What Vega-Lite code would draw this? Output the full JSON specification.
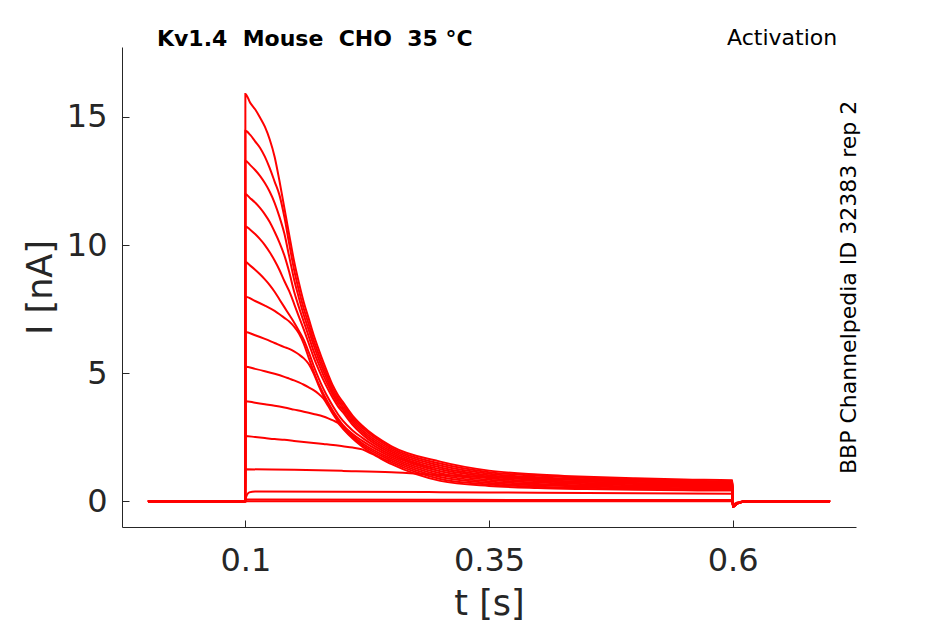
{
  "$schema": "https://vega.github.io/schema/vega-lite/v6.json",
  "autosize": "none",
  "width": 734,
  "height": 480,
  "padding": {"left": 122, "top": 47, "right": 89, "bottom": 97},
  "background": "white",
  "datasets": {
    "traces": [
      {"sweep": 0, "t": 0, "I": 0}, {"sweep": 0, "t": 0.0999, "I": 0}, {"sweep": 0, "t": 0.1, "I": 15.9}, {"sweep": 0, "t": 0.105, "I": 15.55}, {"sweep": 0, "t": 0.11, "I": 15.3}, {"sweep": 0, "t": 0.115, "I": 14.98}, {"sweep": 0, "t": 0.12, "I": 14.62}, {"sweep": 0, "t": 0.125, "I": 14.12}, {"sweep": 0, "t": 0.13, "I": 13.45}, {"sweep": 0, "t": 0.135, "I": 12.5}, {"sweep": 0, "t": 0.14, "I": 11.45}, {"sweep": 0, "t": 0.145, "I": 10.4}, {"sweep": 0, "t": 0.15, "I": 9.37}, {"sweep": 0, "t": 0.155, "I": 8.52}, {"sweep": 0, "t": 0.16, "I": 7.76}, {"sweep": 0, "t": 0.165, "I": 7.13}, {"sweep": 0, "t": 0.17, "I": 6.5}, {"sweep": 0, "t": 0.175, "I": 5.95}, {"sweep": 0, "t": 0.18, "I": 5.43}, {"sweep": 0, "t": 0.185, "I": 4.95}, {"sweep": 0, "t": 0.19, "I": 4.5}, {"sweep": 0, "t": 0.195, "I": 4.15}, {"sweep": 0, "t": 0.2, "I": 3.88}, {"sweep": 0, "t": 0.21, "I": 3.35}, {"sweep": 0, "t": 0.22, "I": 2.95}, {"sweep": 0, "t": 0.25, "I": 2.15}, {"sweep": 0, "t": 0.3, "I": 1.55}, {"sweep": 0, "t": 0.35, "I": 1.2}, {"sweep": 0, "t": 0.4, "I": 1.05}, {"sweep": 0, "t": 0.45, "I": 0.96}, {"sweep": 0, "t": 0.5, "I": 0.9}, {"sweep": 0, "t": 0.55, "I": 0.85}, {"sweep": 0, "t": 0.5999, "I": 0.82}, {"sweep": 0, "t": 0.6001, "I": -0.22}, {"sweep": 0, "t": 0.605, "I": -0.08}, {"sweep": 0, "t": 0.615, "I": 0}, {"sweep": 0, "t": 0.7, "I": 0},

      {"sweep": 1, "t": 0, "I": 0}, {"sweep": 1, "t": 0.0999, "I": 0}, {"sweep": 1, "t": 0.1, "I": 14.46}, {"sweep": 1, "t": 0.105, "I": 14.3}, {"sweep": 1, "t": 0.11, "I": 14.05}, {"sweep": 1, "t": 0.115, "I": 13.8}, {"sweep": 1, "t": 0.12, "I": 13.45}, {"sweep": 1, "t": 0.125, "I": 13.0}, {"sweep": 1, "t": 0.13, "I": 12.48}, {"sweep": 1, "t": 0.135, "I": 11.95}, {"sweep": 1, "t": 0.14, "I": 11.1}, {"sweep": 1, "t": 0.145, "I": 10.05}, {"sweep": 1, "t": 0.15, "I": 9.04}, {"sweep": 1, "t": 0.155, "I": 8.22}, {"sweep": 1, "t": 0.16, "I": 7.51}, {"sweep": 1, "t": 0.165, "I": 6.91}, {"sweep": 1, "t": 0.17, "I": 6.29}, {"sweep": 1, "t": 0.175, "I": 5.76}, {"sweep": 1, "t": 0.18, "I": 5.26}, {"sweep": 1, "t": 0.185, "I": 4.81}, {"sweep": 1, "t": 0.19, "I": 4.37}, {"sweep": 1, "t": 0.195, "I": 4.04}, {"sweep": 1, "t": 0.2, "I": 3.78}, {"sweep": 1, "t": 0.21, "I": 3.26}, {"sweep": 1, "t": 0.22, "I": 2.87}, {"sweep": 1, "t": 0.25, "I": 2.08}, {"sweep": 1, "t": 0.3, "I": 1.475}, {"sweep": 1, "t": 0.35, "I": 1.14}, {"sweep": 1, "t": 0.4, "I": 1.0}, {"sweep": 1, "t": 0.45, "I": 0.912}, {"sweep": 1, "t": 0.5, "I": 0.855}, {"sweep": 1, "t": 0.55, "I": 0.808}, {"sweep": 1, "t": 0.5999, "I": 0.78}, {"sweep": 1, "t": 0.6001, "I": -0.22}, {"sweep": 1, "t": 0.605, "I": -0.08}, {"sweep": 1, "t": 0.615, "I": 0}, {"sweep": 1, "t": 0.7, "I": 0},

      {"sweep": 2, "t": 0, "I": 0}, {"sweep": 2, "t": 0.0999, "I": 0}, {"sweep": 2, "t": 0.1, "I": 13.29}, {"sweep": 2, "t": 0.105, "I": 13.12}, {"sweep": 2, "t": 0.11, "I": 12.93}, {"sweep": 2, "t": 0.115, "I": 12.7}, {"sweep": 2, "t": 0.12, "I": 12.42}, {"sweep": 2, "t": 0.125, "I": 12.08}, {"sweep": 2, "t": 0.13, "I": 11.65}, {"sweep": 2, "t": 0.135, "I": 11.1}, {"sweep": 2, "t": 0.14, "I": 10.45}, {"sweep": 2, "t": 0.145, "I": 9.55}, {"sweep": 2, "t": 0.15, "I": 8.66}, {"sweep": 2, "t": 0.155, "I": 7.93}, {"sweep": 2, "t": 0.16, "I": 7.26}, {"sweep": 2, "t": 0.165, "I": 6.69}, {"sweep": 2, "t": 0.17, "I": 6.1}, {"sweep": 2, "t": 0.175, "I": 5.58}, {"sweep": 2, "t": 0.18, "I": 5.1}, {"sweep": 2, "t": 0.185, "I": 4.66}, {"sweep": 2, "t": 0.19, "I": 4.25}, {"sweep": 2, "t": 0.195, "I": 3.93}, {"sweep": 2, "t": 0.2, "I": 3.68}, {"sweep": 2, "t": 0.21, "I": 3.17}, {"sweep": 2, "t": 0.22, "I": 2.78}, {"sweep": 2, "t": 0.25, "I": 2.01}, {"sweep": 2, "t": 0.3, "I": 1.4}, {"sweep": 2, "t": 0.35, "I": 1.08}, {"sweep": 2, "t": 0.4, "I": 0.944}, {"sweep": 2, "t": 0.45, "I": 0.864}, {"sweep": 2, "t": 0.5, "I": 0.81}, {"sweep": 2, "t": 0.55, "I": 0.766}, {"sweep": 2, "t": 0.5999, "I": 0.74}, {"sweep": 2, "t": 0.6001, "I": -0.22}, {"sweep": 2, "t": 0.605, "I": -0.08}, {"sweep": 2, "t": 0.615, "I": 0}, {"sweep": 2, "t": 0.7, "I": 0},

      {"sweep": 3, "t": 0, "I": 0}, {"sweep": 3, "t": 0.0999, "I": 0}, {"sweep": 3, "t": 0.1, "I": 11.99}, {"sweep": 3, "t": 0.105, "I": 11.83}, {"sweep": 3, "t": 0.11, "I": 11.66}, {"sweep": 3, "t": 0.115, "I": 11.45}, {"sweep": 3, "t": 0.12, "I": 11.2}, {"sweep": 3, "t": 0.125, "I": 10.9}, {"sweep": 3, "t": 0.13, "I": 10.52}, {"sweep": 3, "t": 0.135, "I": 10.1}, {"sweep": 3, "t": 0.14, "I": 9.6}, {"sweep": 3, "t": 0.145, "I": 8.95}, {"sweep": 3, "t": 0.15, "I": 8.19}, {"sweep": 3, "t": 0.155, "I": 7.57}, {"sweep": 3, "t": 0.16, "I": 7.0}, {"sweep": 3, "t": 0.165, "I": 6.44}, {"sweep": 3, "t": 0.17, "I": 5.87}, {"sweep": 3, "t": 0.175, "I": 5.38}, {"sweep": 3, "t": 0.18, "I": 4.93}, {"sweep": 3, "t": 0.185, "I": 4.52}, {"sweep": 3, "t": 0.19, "I": 4.14}, {"sweep": 3, "t": 0.195, "I": 3.82}, {"sweep": 3, "t": 0.2, "I": 3.58}, {"sweep": 3, "t": 0.21, "I": 3.08}, {"sweep": 3, "t": 0.22, "I": 2.7}, {"sweep": 3, "t": 0.25, "I": 1.94}, {"sweep": 3, "t": 0.3, "I": 1.325}, {"sweep": 3, "t": 0.35, "I": 1.02}, {"sweep": 3, "t": 0.4, "I": 0.891}, {"sweep": 3, "t": 0.45, "I": 0.816}, {"sweep": 3, "t": 0.5, "I": 0.765}, {"sweep": 3, "t": 0.55, "I": 0.724}, {"sweep": 3, "t": 0.5999, "I": 0.7}, {"sweep": 3, "t": 0.6001, "I": -0.22}, {"sweep": 3, "t": 0.605, "I": -0.08}, {"sweep": 3, "t": 0.615, "I": 0}, {"sweep": 3, "t": 0.7, "I": 0},

      {"sweep": 4, "t": 0, "I": 0}, {"sweep": 4, "t": 0.0999, "I": 0}, {"sweep": 4, "t": 0.1, "I": 10.73}, {"sweep": 4, "t": 0.105, "I": 10.6}, {"sweep": 4, "t": 0.11, "I": 10.43}, {"sweep": 4, "t": 0.115, "I": 10.23}, {"sweep": 4, "t": 0.12, "I": 10.0}, {"sweep": 4, "t": 0.125, "I": 9.72}, {"sweep": 4, "t": 0.13, "I": 9.4}, {"sweep": 4, "t": 0.135, "I": 9.03}, {"sweep": 4, "t": 0.14, "I": 8.6}, {"sweep": 4, "t": 0.145, "I": 8.2}, {"sweep": 4, "t": 0.15, "I": 7.71}, {"sweep": 4, "t": 0.155, "I": 7.2}, {"sweep": 4, "t": 0.16, "I": 6.7}, {"sweep": 4, "t": 0.165, "I": 6.17}, {"sweep": 4, "t": 0.17, "I": 5.63}, {"sweep": 4, "t": 0.175, "I": 5.16}, {"sweep": 4, "t": 0.18, "I": 4.74}, {"sweep": 4, "t": 0.185, "I": 4.36}, {"sweep": 4, "t": 0.19, "I": 4.01}, {"sweep": 4, "t": 0.195, "I": 3.71}, {"sweep": 4, "t": 0.2, "I": 3.48}, {"sweep": 4, "t": 0.21, "I": 2.99}, {"sweep": 4, "t": 0.22, "I": 2.61}, {"sweep": 4, "t": 0.25, "I": 1.87}, {"sweep": 4, "t": 0.3, "I": 1.25}, {"sweep": 4, "t": 0.35, "I": 0.96}, {"sweep": 4, "t": 0.4, "I": 0.838}, {"sweep": 4, "t": 0.45, "I": 0.768}, {"sweep": 4, "t": 0.5, "I": 0.72}, {"sweep": 4, "t": 0.55, "I": 0.682}, {"sweep": 4, "t": 0.5999, "I": 0.66}, {"sweep": 4, "t": 0.6001, "I": -0.22}, {"sweep": 4, "t": 0.605, "I": -0.08}, {"sweep": 4, "t": 0.615, "I": 0}, {"sweep": 4, "t": 0.7, "I": 0},

      {"sweep": 5, "t": 0, "I": 0}, {"sweep": 5, "t": 0.0999, "I": 0}, {"sweep": 5, "t": 0.1, "I": 9.34}, {"sweep": 5, "t": 0.105, "I": 9.2}, {"sweep": 5, "t": 0.11, "I": 9.04}, {"sweep": 5, "t": 0.115, "I": 8.86}, {"sweep": 5, "t": 0.12, "I": 8.66}, {"sweep": 5, "t": 0.125, "I": 8.44}, {"sweep": 5, "t": 0.13, "I": 8.18}, {"sweep": 5, "t": 0.135, "I": 7.88}, {"sweep": 5, "t": 0.14, "I": 7.58}, {"sweep": 5, "t": 0.145, "I": 7.28}, {"sweep": 5, "t": 0.15, "I": 6.98}, {"sweep": 5, "t": 0.155, "I": 6.65}, {"sweep": 5, "t": 0.16, "I": 6.3}, {"sweep": 5, "t": 0.165, "I": 5.82}, {"sweep": 5, "t": 0.17, "I": 5.3}, {"sweep": 5, "t": 0.175, "I": 4.82}, {"sweep": 5, "t": 0.18, "I": 4.4}, {"sweep": 5, "t": 0.185, "I": 4.03}, {"sweep": 5, "t": 0.19, "I": 3.7}, {"sweep": 5, "t": 0.195, "I": 3.4}, {"sweep": 5, "t": 0.2, "I": 3.15}, {"sweep": 5, "t": 0.21, "I": 2.77}, {"sweep": 5, "t": 0.22, "I": 2.48}, {"sweep": 5, "t": 0.25, "I": 1.8}, {"sweep": 5, "t": 0.3, "I": 1.175}, {"sweep": 5, "t": 0.35, "I": 0.9}, {"sweep": 5, "t": 0.4, "I": 0.785}, {"sweep": 5, "t": 0.45, "I": 0.72}, {"sweep": 5, "t": 0.5, "I": 0.675}, {"sweep": 5, "t": 0.55, "I": 0.64}, {"sweep": 5, "t": 0.5999, "I": 0.62}, {"sweep": 5, "t": 0.6001, "I": -0.22}, {"sweep": 5, "t": 0.605, "I": -0.08}, {"sweep": 5, "t": 0.615, "I": 0}, {"sweep": 5, "t": 0.7, "I": 0},

      {"sweep": 6, "t": 0, "I": 0}, {"sweep": 6, "t": 0.0999, "I": 0}, {"sweep": 6, "t": 0.1, "I": 7.98}, {"sweep": 6, "t": 0.11, "I": 7.82}, {"sweep": 6, "t": 0.12, "I": 7.64}, {"sweep": 6, "t": 0.13, "I": 7.43}, {"sweep": 6, "t": 0.135, "I": 7.3}, {"sweep": 6, "t": 0.14, "I": 7.16}, {"sweep": 6, "t": 0.145, "I": 7.02}, {"sweep": 6, "t": 0.15, "I": 6.82}, {"sweep": 6, "t": 0.155, "I": 6.55}, {"sweep": 6, "t": 0.16, "I": 6.15}, {"sweep": 6, "t": 0.165, "I": 5.6}, {"sweep": 6, "t": 0.17, "I": 5.08}, {"sweep": 6, "t": 0.175, "I": 4.6}, {"sweep": 6, "t": 0.18, "I": 4.2}, {"sweep": 6, "t": 0.185, "I": 3.85}, {"sweep": 6, "t": 0.19, "I": 3.53}, {"sweep": 6, "t": 0.195, "I": 3.24}, {"sweep": 6, "t": 0.2, "I": 2.98}, {"sweep": 6, "t": 0.21, "I": 2.63}, {"sweep": 6, "t": 0.22, "I": 2.36}, {"sweep": 6, "t": 0.25, "I": 1.73}, {"sweep": 6, "t": 0.3, "I": 1.1}, {"sweep": 6, "t": 0.35, "I": 0.84}, {"sweep": 6, "t": 0.4, "I": 0.732}, {"sweep": 6, "t": 0.45, "I": 0.672}, {"sweep": 6, "t": 0.5, "I": 0.63}, {"sweep": 6, "t": 0.55, "I": 0.598}, {"sweep": 6, "t": 0.5999, "I": 0.58}, {"sweep": 6, "t": 0.6001, "I": -0.22}, {"sweep": 6, "t": 0.605, "I": -0.08}, {"sweep": 6, "t": 0.615, "I": 0}, {"sweep": 6, "t": 0.7, "I": 0},

      {"sweep": 7, "t": 0, "I": 0}, {"sweep": 7, "t": 0.0999, "I": 0}, {"sweep": 7, "t": 0.1, "I": 6.61}, {"sweep": 7, "t": 0.11, "I": 6.48}, {"sweep": 7, "t": 0.12, "I": 6.34}, {"sweep": 7, "t": 0.13, "I": 6.18}, {"sweep": 7, "t": 0.14, "I": 6.02}, {"sweep": 7, "t": 0.145, "I": 5.95}, {"sweep": 7, "t": 0.15, "I": 5.85}, {"sweep": 7, "t": 0.155, "I": 5.73}, {"sweep": 7, "t": 0.16, "I": 5.58}, {"sweep": 7, "t": 0.165, "I": 5.36}, {"sweep": 7, "t": 0.17, "I": 5.0}, {"sweep": 7, "t": 0.175, "I": 4.54}, {"sweep": 7, "t": 0.18, "I": 4.12}, {"sweep": 7, "t": 0.185, "I": 3.78}, {"sweep": 7, "t": 0.19, "I": 3.46}, {"sweep": 7, "t": 0.195, "I": 3.17}, {"sweep": 7, "t": 0.2, "I": 2.92}, {"sweep": 7, "t": 0.21, "I": 2.56}, {"sweep": 7, "t": 0.22, "I": 2.27}, {"sweep": 7, "t": 0.25, "I": 1.66}, {"sweep": 7, "t": 0.3, "I": 1.025}, {"sweep": 7, "t": 0.35, "I": 0.78}, {"sweep": 7, "t": 0.4, "I": 0.679}, {"sweep": 7, "t": 0.45, "I": 0.624}, {"sweep": 7, "t": 0.5, "I": 0.585}, {"sweep": 7, "t": 0.55, "I": 0.556}, {"sweep": 7, "t": 0.5999, "I": 0.54}, {"sweep": 7, "t": 0.6001, "I": -0.22}, {"sweep": 7, "t": 0.605, "I": -0.08}, {"sweep": 7, "t": 0.615, "I": 0}, {"sweep": 7, "t": 0.7, "I": 0},

      {"sweep": 8, "t": 0, "I": 0}, {"sweep": 8, "t": 0.0999, "I": 0}, {"sweep": 8, "t": 0.1, "I": 5.25}, {"sweep": 8, "t": 0.11, "I": 5.17}, {"sweep": 8, "t": 0.12, "I": 5.08}, {"sweep": 8, "t": 0.13, "I": 4.98}, {"sweep": 8, "t": 0.14, "I": 4.86}, {"sweep": 8, "t": 0.145, "I": 4.79}, {"sweep": 8, "t": 0.15, "I": 4.72}, {"sweep": 8, "t": 0.155, "I": 4.64}, {"sweep": 8, "t": 0.16, "I": 4.55}, {"sweep": 8, "t": 0.165, "I": 4.45}, {"sweep": 8, "t": 0.17, "I": 4.34}, {"sweep": 8, "t": 0.175, "I": 4.2}, {"sweep": 8, "t": 0.18, "I": 4.02}, {"sweep": 8, "t": 0.185, "I": 3.72}, {"sweep": 8, "t": 0.19, "I": 3.4}, {"sweep": 8, "t": 0.195, "I": 3.12}, {"sweep": 8, "t": 0.2, "I": 2.87}, {"sweep": 8, "t": 0.21, "I": 2.5}, {"sweep": 8, "t": 0.22, "I": 2.2}, {"sweep": 8, "t": 0.25, "I": 1.59}, {"sweep": 8, "t": 0.3, "I": 0.95}, {"sweep": 8, "t": 0.35, "I": 0.72}, {"sweep": 8, "t": 0.4, "I": 0.626}, {"sweep": 8, "t": 0.45, "I": 0.576}, {"sweep": 8, "t": 0.5, "I": 0.54}, {"sweep": 8, "t": 0.55, "I": 0.514}, {"sweep": 8, "t": 0.5999, "I": 0.5}, {"sweep": 8, "t": 0.6001, "I": -0.22}, {"sweep": 8, "t": 0.605, "I": -0.08}, {"sweep": 8, "t": 0.615, "I": 0}, {"sweep": 8, "t": 0.7, "I": 0},

      {"sweep": 9, "t": 0, "I": 0}, {"sweep": 9, "t": 0.0999, "I": 0}, {"sweep": 9, "t": 0.1, "I": 3.91}, {"sweep": 9, "t": 0.11, "I": 3.85}, {"sweep": 9, "t": 0.12, "I": 3.79}, {"sweep": 9, "t": 0.13, "I": 3.73}, {"sweep": 9, "t": 0.14, "I": 3.66}, {"sweep": 9, "t": 0.15, "I": 3.58}, {"sweep": 9, "t": 0.16, "I": 3.5}, {"sweep": 9, "t": 0.17, "I": 3.41}, {"sweep": 9, "t": 0.18, "I": 3.31}, {"sweep": 9, "t": 0.185, "I": 3.24}, {"sweep": 9, "t": 0.19, "I": 3.16}, {"sweep": 9, "t": 0.195, "I": 3.06}, {"sweep": 9, "t": 0.2, "I": 2.84}, {"sweep": 9, "t": 0.21, "I": 2.45}, {"sweep": 9, "t": 0.22, "I": 2.13}, {"sweep": 9, "t": 0.25, "I": 1.52}, {"sweep": 9, "t": 0.3, "I": 0.875}, {"sweep": 9, "t": 0.35, "I": 0.66}, {"sweep": 9, "t": 0.4, "I": 0.573}, {"sweep": 9, "t": 0.45, "I": 0.528}, {"sweep": 9, "t": 0.5, "I": 0.495}, {"sweep": 9, "t": 0.55, "I": 0.472}, {"sweep": 9, "t": 0.5999, "I": 0.46}, {"sweep": 9, "t": 0.6001, "I": -0.22}, {"sweep": 9, "t": 0.605, "I": -0.08}, {"sweep": 9, "t": 0.615, "I": 0}, {"sweep": 9, "t": 0.7, "I": 0},

      {"sweep": 10, "t": 0, "I": 0}, {"sweep": 10, "t": 0.0999, "I": 0}, {"sweep": 10, "t": 0.1, "I": 2.55}, {"sweep": 10, "t": 0.11, "I": 2.51}, {"sweep": 10, "t": 0.12, "I": 2.47}, {"sweep": 10, "t": 0.13, "I": 2.43}, {"sweep": 10, "t": 0.14, "I": 2.4}, {"sweep": 10, "t": 0.15, "I": 2.36}, {"sweep": 10, "t": 0.16, "I": 2.32}, {"sweep": 10, "t": 0.17, "I": 2.28}, {"sweep": 10, "t": 0.18, "I": 2.24}, {"sweep": 10, "t": 0.19, "I": 2.2}, {"sweep": 10, "t": 0.2, "I": 2.15}, {"sweep": 10, "t": 0.21, "I": 2.1}, {"sweep": 10, "t": 0.22, "I": 2.03}, {"sweep": 10, "t": 0.23, "I": 1.85}, {"sweep": 10, "t": 0.25, "I": 1.45}, {"sweep": 10, "t": 0.3, "I": 0.8}, {"sweep": 10, "t": 0.35, "I": 0.6}, {"sweep": 10, "t": 0.4, "I": 0.52}, {"sweep": 10, "t": 0.45, "I": 0.48}, {"sweep": 10, "t": 0.5, "I": 0.45}, {"sweep": 10, "t": 0.55, "I": 0.43}, {"sweep": 10, "t": 0.5999, "I": 0.42}, {"sweep": 10, "t": 0.6001, "I": -0.22}, {"sweep": 10, "t": 0.605, "I": -0.08}, {"sweep": 10, "t": 0.615, "I": 0}, {"sweep": 10, "t": 0.7, "I": 0},

      {"sweep": 11, "t": 0, "I": 0}, {"sweep": 11, "t": 0.0999, "I": 0}, {"sweep": 11, "t": 0.1, "I": 1.25}, {"sweep": 11, "t": 0.15, "I": 1.23}, {"sweep": 11, "t": 0.2, "I": 1.19}, {"sweep": 11, "t": 0.25, "I": 1.14}, {"sweep": 11, "t": 0.3, "I": 1.03}, {"sweep": 11, "t": 0.35, "I": 0.95}, {"sweep": 11, "t": 0.4, "I": 0.88}, {"sweep": 11, "t": 0.45, "I": 0.83}, {"sweep": 11, "t": 0.5, "I": 0.79}, {"sweep": 11, "t": 0.55, "I": 0.76}, {"sweep": 11, "t": 0.5999, "I": 0.73}, {"sweep": 11, "t": 0.6001, "I": -0.22}, {"sweep": 11, "t": 0.605, "I": -0.08}, {"sweep": 11, "t": 0.615, "I": 0}, {"sweep": 11, "t": 0.7, "I": 0},

      {"sweep": 12, "t": 0, "I": 0}, {"sweep": 12, "t": 0.0999, "I": 0}, {"sweep": 12, "t": 0.1, "I": 0.05}, {"sweep": 12, "t": 0.1015, "I": 0.24}, {"sweep": 12, "t": 0.104, "I": 0.35}, {"sweep": 12, "t": 0.11, "I": 0.39}, {"sweep": 12, "t": 0.2, "I": 0.38}, {"sweep": 12, "t": 0.3, "I": 0.36}, {"sweep": 12, "t": 0.4, "I": 0.34}, {"sweep": 12, "t": 0.5, "I": 0.32}, {"sweep": 12, "t": 0.5999, "I": 0.3}, {"sweep": 12, "t": 0.6001, "I": -0.2}, {"sweep": 12, "t": 0.605, "I": -0.08}, {"sweep": 12, "t": 0.615, "I": 0}, {"sweep": 12, "t": 0.7, "I": 0},

      {"sweep": 13, "t": 0, "I": 0}, {"sweep": 13, "t": 0.0999, "I": 0}, {"sweep": 13, "t": 0.1, "I": 0.07}, {"sweep": 13, "t": 0.3, "I": 0.06}, {"sweep": 13, "t": 0.5999, "I": 0.05}, {"sweep": 13, "t": 0.6001, "I": -0.15}, {"sweep": 13, "t": 0.605, "I": -0.05}, {"sweep": 13, "t": 0.615, "I": 0}, {"sweep": 13, "t": 0.7, "I": 0},

      {"sweep": 14, "t": 0, "I": 0}, {"sweep": 14, "t": 0.1, "I": 0}, {"sweep": 14, "t": 0.5999, "I": 0}, {"sweep": 14, "t": 0.6001, "I": -0.12}, {"sweep": 14, "t": 0.605, "I": -0.04}, {"sweep": 14, "t": 0.615, "I": 0}, {"sweep": 14, "t": 0.7, "I": 0}
    ]
  },
  "layer": [
    {
      "data": {"name": "traces"},
      "mark": {"type": "line", "color": "#ff0000", "strokeWidth": 2, "interpolate": "monotone"},
      "encoding": {
        "x": {
          "field": "t",
          "type": "quantitative",
          "title": "t [s]",
          "scale": {"domain": [-0.0266, 0.7266], "nice": false, "zero": false},
          "axis": {
            "values": [0.1, 0.35, 0.6],
            "labelExpr": "datum.value + ''",
            "labelPadding": 25,
            "titlePadding": 10
          }
        },
        "y": {
          "field": "I",
          "type": "quantitative",
          "title": "I [nA]",
          "scale": {"domain": [-1.0, 17.73], "nice": false, "zero": false},
          "axis": {
            "values": [0, 5, 10, 15],
            "labelExpr": "datum.value + ''",
            "labelPadding": 22,
            "titlePadding": 8
          }
        },
        "detail": {"field": "sweep", "type": "nominal"}
      }
    },
    {
      "data": {"values": [{}]},
      "mark": {"type": "text", "text": "Kv1.4 \u00a0Mouse \u00a0CHO \u00a035 °C", "font": "DejaVu Sans", "fontSize": 22, "fontWeight": "bold", "color": "#000000", "align": "left", "baseline": "alphabetic"},
      "encoding": {
        "x": {"datum": 0.0093, "type": "quantitative"},
        "y": {"datum": 17.75, "type": "quantitative"}
      }
    },
    {
      "data": {"values": [{}]},
      "mark": {"type": "text", "text": "Activation", "font": "DejaVu Sans", "fontSize": 22, "color": "#000000", "align": "center", "baseline": "alphabetic"},
      "encoding": {
        "x": {"datum": 0.6508, "type": "quantitative"},
        "y": {"datum": 17.8, "type": "quantitative"}
      }
    },
    {
      "data": {"values": [{}]},
      "mark": {"type": "text", "text": "BBP Channelpedia ID 32383 rep 2", "font": "DejaVu Sans", "fontSize": 22, "color": "#000000", "align": "center", "baseline": "alphabetic", "angle": 270},
      "encoding": {
        "x": {"datum": 0.7265, "type": "quantitative"},
        "y": {"datum": 8.35, "type": "quantitative"}
      }
    }
  ],
  "config": {
    "view": {"stroke": null},
    "axis": {
      "grid": false,
      "domainColor": "#262626",
      "domainWidth": 1,
      "tickColor": "#262626",
      "tickWidth": 1,
      "tickSize": -7,
      "labelColor": "#262626",
      "titleColor": "#262626",
      "labelFont": "DejaVu Sans",
      "titleFont": "DejaVu Sans",
      "labelFontSize": 32,
      "titleFontSize": 35,
      "titleFontWeight": "normal",
      "labelFlush": false,
      "labelOverlap": false
    }
  }
}
